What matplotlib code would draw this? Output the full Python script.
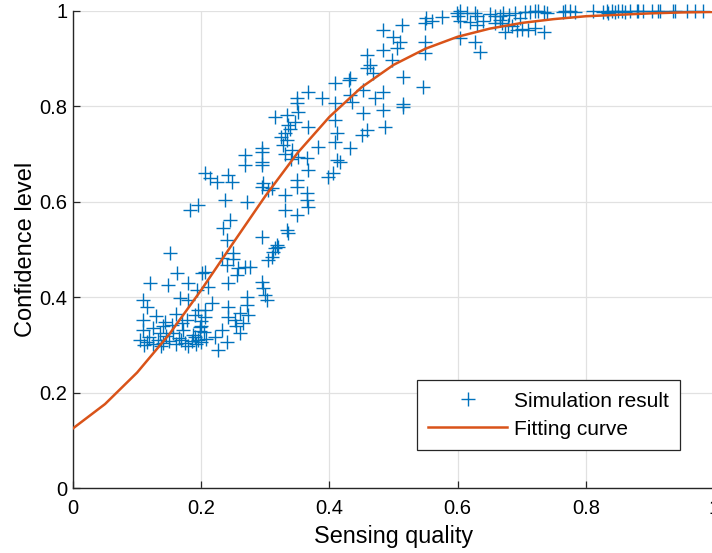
import matplotlib
matplotlib.use("Agg")
import matplotlib.pyplot as plt

# Simulation results (sensing quality, confidence level), grouped by region
low_cluster = [
    (0.151, 0.493), (0.162, 0.451), (0.201, 0.451), (0.120, 0.430), (0.148, 0.426),
    (0.179, 0.430), (0.109, 0.394), (0.115, 0.380), (0.167, 0.398), (0.179, 0.394),
    (0.206, 0.373), (0.109, 0.352), (0.144, 0.348), (0.154, 0.342), (0.178, 0.352),
    (0.198, 0.338), (0.109, 0.331), (0.136, 0.325), (0.156, 0.325), (0.172, 0.331),
    (0.187, 0.321), (0.204, 0.327), (0.105, 0.310), (0.115, 0.306), (0.125, 0.302),
    (0.133, 0.310), (0.140, 0.304), (0.150, 0.308), (0.160, 0.302), (0.168, 0.310),
    (0.175, 0.304), (0.185, 0.308), (0.192, 0.302), (0.200, 0.306), (0.207, 0.312),
    (0.118, 0.316), (0.145, 0.318), (0.165, 0.314), (0.190, 0.316), (0.110, 0.300),
    (0.138, 0.298), (0.180, 0.298), (0.130, 0.360), (0.160, 0.365), (0.190, 0.362),
    (0.140, 0.340), (0.170, 0.345), (0.125, 0.335), (0.183, 0.583),
]

rising_band = [
    (0.268, 0.698), (0.295, 0.704), (0.268, 0.677), (0.295, 0.677), (0.206, 0.660),
    (0.225, 0.642), (0.242, 0.656), (0.248, 0.642), (0.296, 0.639), (0.310, 0.629),
    (0.237, 0.604), (0.271, 0.600), (0.195, 0.593), (0.245, 0.562), (0.234, 0.545),
    (0.240, 0.520), (0.295, 0.526), (0.250, 0.493), (0.250, 0.480), (0.315, 0.503),
    (0.310, 0.484), (0.232, 0.482), (0.240, 0.467), (0.257, 0.461), (0.268, 0.463),
    (0.276, 0.463), (0.206, 0.453), (0.256, 0.447), (0.242, 0.430), (0.295, 0.432),
    (0.296, 0.419), (0.211, 0.421), (0.193, 0.415), (0.271, 0.400), (0.217, 0.388),
    (0.271, 0.384), (0.242, 0.379), (0.195, 0.373), (0.260, 0.367), (0.273, 0.363),
    (0.242, 0.358), (0.206, 0.358), (0.253, 0.352), (0.232, 0.331), (0.260, 0.325),
    (0.222, 0.317), (0.240, 0.306), (0.195, 0.310), (0.226, 0.289), (0.198, 0.330),
    (0.199, 0.340), (0.200, 0.350), (0.255, 0.340), (0.265, 0.345), (0.300, 0.405),
    (0.302, 0.395), (0.318, 0.509), (0.335, 0.535), (0.213, 0.650),
]

middle_band = [
    (0.367, 0.830), (0.388, 0.818), (0.349, 0.807), (0.409, 0.807), (0.315, 0.778),
    (0.334, 0.782), (0.351, 0.788), (0.335, 0.761), (0.346, 0.767), (0.367, 0.757),
    (0.331, 0.744), (0.334, 0.730), (0.382, 0.715), (0.342, 0.709), (0.409, 0.725),
    (0.295, 0.713), (0.295, 0.683), (0.351, 0.694), (0.365, 0.692), (0.412, 0.688),
    (0.367, 0.667), (0.398, 0.652), (0.349, 0.646), (0.349, 0.631), (0.295, 0.631),
    (0.304, 0.625), (0.331, 0.614), (0.365, 0.618), (0.365, 0.604), (0.367, 0.589),
    (0.331, 0.583), (0.349, 0.572), (0.334, 0.541), (0.320, 0.505), (0.312, 0.495),
    (0.304, 0.478), (0.325, 0.735), (0.327, 0.720), (0.330, 0.700), (0.338, 0.752),
    (0.340, 0.690), (0.349, 0.818),
]

upper_band = [
    (0.484, 0.960), (0.513, 0.971), (0.549, 0.975), (0.499, 0.945), (0.510, 0.935),
    (0.549, 0.935), (0.484, 0.918), (0.505, 0.922), (0.549, 0.912), (0.459, 0.908),
    (0.498, 0.897), (0.463, 0.887), (0.459, 0.881), (0.468, 0.870), (0.515, 0.862),
    (0.432, 0.860), (0.409, 0.849), (0.430, 0.855), (0.452, 0.834), (0.546, 0.841),
    (0.484, 0.830), (0.432, 0.824), (0.471, 0.818), (0.435, 0.809), (0.515, 0.799),
    (0.515, 0.805), (0.484, 0.792), (0.452, 0.786), (0.409, 0.771), (0.487, 0.757),
    (0.459, 0.751), (0.451, 0.740), (0.432, 0.713), (0.412, 0.745), (0.416, 0.683),
    (0.405, 0.660),
]

near_saturation = [
    (0.576, 0.987), (0.604, 1.000), (0.600, 0.990), (0.630, 0.990), (0.650, 0.993),
    (0.658, 0.990), (0.604, 0.980), (0.640, 0.978), (0.658, 0.975), (0.666, 0.990),
    (0.680, 0.992), (0.690, 0.995), (0.705, 0.997), (0.720, 0.999), (0.735, 0.998),
    (0.670, 0.975), (0.685, 0.968), (0.700, 0.962), (0.710, 0.960), (0.720, 0.965),
    (0.735, 0.955), (0.627, 0.935), (0.635, 0.914), (0.604, 0.943), (0.550, 0.985),
    (0.560, 0.980), (0.599, 0.996), (0.615, 0.996), (0.627, 0.996), (0.619, 0.977),
    (0.630, 0.971), (0.671, 0.996), (0.666, 0.981), (0.679, 0.971), (0.674, 0.956),
    (0.693, 0.960), (0.697, 0.985), (0.713, 0.998), (0.725, 1.000), (0.739, 0.996),
    (0.768, 1.000), (0.775, 1.000), (0.765, 0.998), (0.783, 0.997),
]

saturated = [
    (0.811, 1.000), (0.827, 0.998), (0.833, 1.000), (0.835, 0.996), (0.841, 1.000),
    (0.846, 0.998), (0.850, 1.000), (0.856, 1.000), (0.861, 0.998), (0.869, 1.000),
    (0.880, 1.000), (0.881, 0.999), (0.889, 1.000), (0.903, 1.000), (0.913, 1.000),
    (0.916, 0.999), (0.936, 1.000), (0.939, 1.000), (0.958, 1.000), (0.970, 1.000),
    (0.983, 1.000),
]

# Fitted curve sampled every 0.05
fit_x = [0.00, 0.05, 0.10, 0.15, 0.20, 0.25, 0.30, 0.35, 0.40, 0.45, 0.50,
         0.55, 0.60, 0.65, 0.70, 0.75, 0.80, 0.85, 0.90, 0.95, 1.00]
fit_y = [0.125, 0.176, 0.242, 0.322, 0.415, 0.514, 0.612, 0.702, 0.778, 0.840, 0.887,
         0.921, 0.946, 0.963, 0.975, 0.983, 0.989, 0.992, 0.995, 0.997, 0.998]

ticks = [0, 0.2, 0.4, 0.6, 0.8, 1]
tick_labels = ["0", "0.2", "0.4", "0.6", "0.8", "1"]

plt.rcParams['font.family'] = ['Liberation Sans', 'DejaVu Sans']

points = low_cluster + rising_band + middle_band + upper_band + near_saturation + saturated
sim_x = [p[0] for p in points]
sim_y = [p[1] for p in points]

fig = plt.figure(figsize=(7.12, 5.53), dpi=100)
ax = fig.add_axes([73 / 712, 65 / 553, 641 / 712, 477 / 553])

blue = '#0072BD'
orange = '#D95319'

ax.plot(sim_x, sim_y, linestyle='none', marker='+', markersize=10,
        markeredgewidth=1.0, color=blue, clip_on=False, zorder=3,
        label='Simulation result')
ax.plot(fit_x, fit_y, color=orange, linewidth=1.8, zorder=4,
        label='Fitting curve')

ax.set_xlim(0, 1)
ax.set_ylim(0, 1)
ax.set_xticks(ticks)
ax.set_xticklabels(tick_labels)
ax.set_yticks(ticks)
ax.set_yticklabels(tick_labels)

ax.grid(True, color='#e1e1e1', linewidth=0.9)
ax.set_axisbelow(True)
for side in ('top', 'right'):
    ax.spines[side].set_visible(False)
for side in ('left', 'bottom'):
    ax.spines[side].set_linewidth(1.0)
    ax.spines[side].set_color('#262626')

ax.tick_params(axis='both', direction='in', length=5, width=0.9,
               labelsize=14.5, colors='#262626', labelcolor='black')
ax.tick_params(axis='x', pad=8)
ax.tick_params(axis='y', pad=4)

ax.set_xlabel('Sensing quality', fontsize=16.8, labelpad=5)
ax.set_ylabel('Confidence level', fontsize=17, labelpad=2)

leg = ax.legend(loc='lower right', bbox_to_anchor=(680 / 712, 103 / 553),
                bbox_transform=fig.transFigure, borderaxespad=0,
                fontsize=15, frameon=True, fancybox=False,
                handlelength=3.8, handletextpad=0.3, labelspacing=0.42,
                borderpad=0.55)
leg.get_frame().set_edgecolor('#262626')
leg.get_frame().set_linewidth(0.9)
leg.get_frame().set_alpha(1.0)

fig.savefig('out.png', dpi=100)
